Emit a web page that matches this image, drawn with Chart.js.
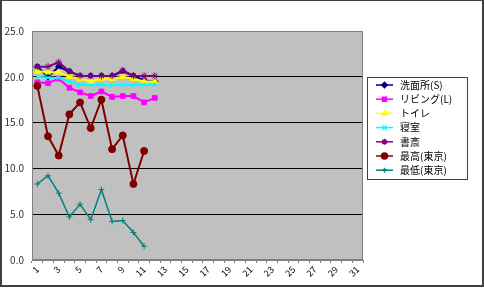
<!DOCTYPE html>
<html>
<head>
<meta charset="utf-8">
<script src="https://cdn.jsdelivr.net/npm/chart.js@4"></script>
<style>
  html, body { margin: 0; padding: 0; background: #fff; }
  #wrap { width: 484px; height: 291px; }
</style>
</head>
<body>
<div id="wrap"><canvas id="linechart" width="484" height="291"></canvas></div>
<script>
// 日付 (1〜31)
const days = Array.from({ length: 31 }, (_, i) => String(i + 1));

// 各部屋の温度
const senmenjo = [21.1, 20.0, 21.1, 20.6, 20.1, 20.1, 20.1, 20.1, 20.6, 20.1, 19.6, 19.5];
const living   = [19.4, 19.3, 19.8, 18.8, 18.3, 17.9, 18.4, 17.8, 17.9, 17.9, 17.2, 17.7];
const toilet   = [20.6, 20.5, 20.5, 20.0, 19.8, 19.5, 19.8, 19.8, 20.0, 19.8, 19.5, 19.5];
const shinshitsu = [20.0, 19.9, 19.9, 19.5, 19.1, 19.1, 19.1, 19.1, 19.1, 19.1, 19.1, 19.1];
const shosai   = [21.1, 21.1, 21.6, 20.6, 20.1, 20.1, 20.1, 20.1, 20.7, 20.1, 20.1, 20.1];
// 東京の気温
const maxTokyo = [19.0, 13.5, 11.4, 15.9, 17.2, 14.4, 17.5, 12.1, 13.6, 8.3, 11.9];
const minTokyo = [8.3, 9.2, 7.3, 4.7, 6.1, 4.4, 7.7, 4.2, 4.3, 3.0, 1.5];

const seriesNames = ['洗面所(S)', 'リビング(L)', 'トイレ', '寝室', '書斎', '最高(東京)', '最低(東京)'];
const seriesData = [senmenjo, living, toilet, shinshitsu, shosai, maxTokyo, minTokyo];
const lineColors = ['#000080', '#FF00FF', '#FFFF00', '#00FFFF', '#800080', '#800000', '#008080'];
const markers = ['rectRot', 'rect', 'triangle', 'crossRot', 'star', 'circle', 'cross'];
const markerSizes = [3.2, 3.3, 3.5, 3.5, 3.5, 3.5, 3];

const datasets = seriesNames.map((name, i) => ({
  label: name,
  data: seriesData[i],
  order: seriesNames.length - i, // 後の系列を上に描く
  borderColor: lineColors[i],
  backgroundColor: lineColors[i],
  borderWidth: i === 6 ? 1.5 : 2,
  pointStyle: markers[i],
  pointRadius: markerSizes[i],
  pointBorderColor: lineColors[i],
  pointBackgroundColor: lineColors[i],
  pointBorderWidth: 1,
  tension: 0,
  fill: false
}));

// 背景・外枠・凡例を描くプラグイン
const excelLook = {
  id: 'excelLook',
  beforeDraw(chart) {
    const { ctx, chartArea: a } = chart;
    ctx.save();
    ctx.fillStyle = '#C0C0C0';
    ctx.fillRect(a.left, a.top, a.right - a.left, a.bottom - a.top);
    ctx.restore();
  },
  afterDraw(chart) {
    const { ctx, chartArea: a } = chart;
    ctx.save();
    // プロットエリア枠
    ctx.strokeStyle = '#808080';
    ctx.lineWidth = 1;
    ctx.strokeRect(a.left + 0.5, a.top + 0.5, a.right - a.left - 1, a.bottom - a.top - 1);
    // 外枠
    ctx.strokeStyle = '#404040';
    ctx.lineWidth = 2;
    ctx.strokeRect(1, 0, 482, 286);

    // 凡例
    const lx = 367, ly = 77, lw = 100, lh = 102;
    ctx.fillStyle = '#ffffff';
    ctx.fillRect(lx, ly, lw, lh);
    ctx.strokeStyle = '#404040';
    ctx.lineWidth = 1;
    ctx.strokeRect(lx + 0.5, ly + 0.5, lw, lh);
    ctx.font = '10px "Noto Sans CJK JP"';
    ctx.textBaseline = 'middle';
    chart.data.datasets.forEach((ds, i) => {
      const y = ly + 8 + i * 14.2;
      ctx.strokeStyle = ds.borderColor;
      ctx.lineWidth = 1.5;
      ctx.beginPath();
      ctx.moveTo(lx + 9, y);
      ctx.lineTo(lx + 26, y);
      ctx.stroke();
      ctx.fillStyle = ds.backgroundColor;
      ctx.strokeStyle = ds.borderColor;
      Chart.helpers.drawPoint(ctx, {
        pointStyle: ds.pointStyle,
        radius: ds.pointRadius - 0.5,
        rotation: 0,
        borderWidth: 1
      }, lx + 17.5, y);
      ctx.fillStyle = '#000000';
      ctx.fillText(ds.label, lx + 33, y);
    });
    ctx.restore();
  }
};

const ctx = document.getElementById('linechart').getContext('2d');
new Chart(ctx, {
  type: 'line',
  data: { labels: days, datasets: datasets },
  plugins: [excelLook],
  options: {
    responsive: false,
    animation: false,
    layout: { padding: { left: 0, top: 31, right: 121, bottom: 0 } },
    plugins: {
      legend: { display: false },
      tooltip: { enabled: false }
    },
    scales: {
      x: {
        offset: true,
        grid: {
          display: true,
          drawOnChartArea: false,
          offset: true,
          tickLength: 3,
          color: '#808080'
        },
        border: { color: '#808080' },
        ticks: {
          autoSkip: false,
          maxRotation: 45,
          minRotation: 45,
          padding: 1,
          color: '#000000',
          font: { family: '"Noto Sans CJK JP"', size: 9 },
          callback: function(val, idx) {
            return idx % 2 === 0 ? this.getLabelForValue(val) : '';
          }
        },
        afterFit(scale) { scale.height = 31; }
      },
      y: {
        min: 0,
        max: 25,
        grid: {
          color: (c) => (c.tick.value === 0 || c.tick.value === 25) ? 'rgba(0,0,0,0)' : '#000000',
          drawTicks: false
        },
        border: { color: '#808080' },
        ticks: {
          stepSize: 5,
          padding: 8,
          color: '#333333',
          font: { family: '"Noto Sans CJK JP"', size: 10 },
          callback: (v) => v.toFixed(1)
        },
        afterFit(scale) { scale.width = 32; }
      }
    }
  }
});
</script>
</body>
</html>
